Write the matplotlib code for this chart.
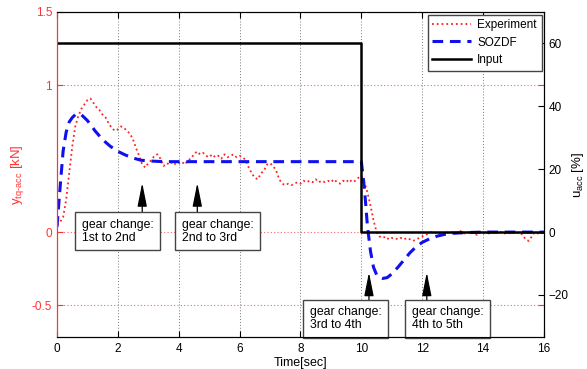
import numpy as np
import matplotlib
matplotlib.use("Agg")
import matplotlib.pyplot as plt

plt.rcParams['font.family'] = ['Liberation Sans', 'DejaVu Sans']
plt.rcParams['mathtext.fontset'] = 'custom'
plt.rcParams['mathtext.rm'] = 'Liberation Sans'
plt.rcParams['mathtext.it'] = 'Liberation Sans'

# ---------------- data ----------------
exp_t = np.round(np.arange(0, 16.01, 0.1), 1)
exp_y = [
    0.05, 0.07, 0.10, 0.22, 0.40, 0.58, 0.72, 0.79, 0.84, 0.87,   # 0.0-0.9
    0.90, 0.91, 0.88, 0.85, 0.83, 0.80, 0.78, 0.74, 0.71, 0.69,   # 1.0-1.9
    0.70, 0.72, 0.71, 0.69, 0.67, 0.63, 0.57, 0.52, 0.46, 0.44,   # 2.0-2.9
    0.47, 0.49, 0.52, 0.53, 0.50, 0.45, 0.47, 0.46, 0.48, 0.46,   # 3.0-3.9
    0.47, 0.48, 0.46, 0.49, 0.50, 0.53, 0.55, 0.53, 0.54, 0.52,   # 4.0-4.9
    0.51, 0.53, 0.51, 0.52, 0.50, 0.53, 0.51, 0.52, 0.53, 0.51,   # 5.0-5.9
    0.52, 0.51, 0.49, 0.44, 0.40, 0.37, 0.36, 0.40, 0.42, 0.46,   # 6.0-6.9
    0.47, 0.45, 0.42, 0.36, 0.33, 0.32, 0.33, 0.32, 0.33, 0.34,   # 7.0-7.9
    0.33, 0.35, 0.34, 0.35, 0.34, 0.36, 0.34, 0.35, 0.34, 0.35,   # 8.0-8.9
    0.34, 0.36, 0.34, 0.33, 0.35, 0.34, 0.36, 0.34, 0.35, 0.37,   # 9.0-9.9
    0.38, 0.34, 0.27, 0.18, 0.08, 0.00, -0.03, -0.04, -0.03, -0.05,   # 10.0-10.9
    -0.04, -0.04, -0.05, -0.04, -0.05, -0.04, -0.05, -0.06, -0.05, -0.04,  # 11.0-11.9
    -0.03, -0.02, -0.01, 0.00, -0.01, 0.00, -0.01, -0.02, 0.00, -0.01,  # 12.0-12.9
    0.00, -0.01, 0.00, 0.01, -0.01, 0.00, -0.01, 0.00, -0.02, 0.00,    # 13.0-13.9
    -0.01, 0.00, -0.01, 0.00, 0.01, -0.01, 0.00, -0.01, 0.00, -0.01,   # 14.0-14.9
    0.00, -0.01, 0.00, -0.02, -0.05, -0.06, -0.03, 0.00, -0.01, 0.00,  # 15.0-15.9
    -0.02,                                                              # 16.0
]

sim_t = [0.0, 0.1, 0.2, 0.3, 0.4, 0.5, 0.6, 0.7, 0.8, 1.0, 1.25, 1.5, 1.75,
         2.0, 2.25, 2.5, 2.75, 3.0, 3.5, 10.0, 10.1, 10.2, 10.3, 10.4, 10.5,
         10.6, 10.7, 10.85, 11.0, 11.2, 11.4, 11.6, 11.8, 12.0, 12.25, 12.5,
         12.75, 13.0, 13.5, 14.0, 16.0]
sim_y = [0.036, 0.30, 0.55, 0.68, 0.75, 0.78, 0.80, 0.805, 0.80, 0.76, 0.69,
         0.63, 0.585, 0.55, 0.525, 0.505, 0.49, 0.485, 0.48, 0.48, 0.30, 0.04,
         -0.13, -0.24, -0.29, -0.31, -0.316, -0.31, -0.285, -0.24, -0.19,
         -0.14, -0.10, -0.07, -0.045, -0.027, -0.015, -0.008, -0.003, 0.0, 0.0]

inp_t = [0, 10, 10, 16]
inp_u = [60, 60, 0, 0]

x_ticks = [0, 2, 4, 6, 8, 10, 12, 14, 16]
y_ticks = [-0.5, 0, 1, 1.5]
y_ticklabels = ['-0.5', '0', '1', '1.5']
u_ticks = [-20, 0, 20, 40, 60]

annotations = [
    "gear change:\n1st to 2nd",
    "gear change:\n2nd to 3rd",
    "gear change:\n3rd to 4th",
    "gear change:\n4th to 5th",
]

# ---------------- figure ----------------
fig = plt.figure(figsize=(5.87, 3.69), dpi=100)
ax = fig.add_axes([0.0971, 0.0867, 0.8296, 0.8808])
ax2 = ax.twinx()

ylo, yhi = -0.715, 1.5
scale = 70 / 1.5
ax.set_ylim(ylo, yhi)
ax2.set_ylim(ylo * scale, yhi * scale)
ax.set_xlim(0, 16)

red = '#ff3333'
l1, = ax.plot(exp_t, exp_y, linestyle=':', color='#ff2020', lw=1.3, label='Experiment')
l2, = ax.plot(sim_t, sim_y, linestyle='--', color='#1010ee', lw=2.2, dashes=(3.5, 2.2), label='SOZDF')
l3, = ax2.plot(inp_t, inp_u, color='black', lw=1.8, label='Input')

ax.set_xticks(x_ticks)
ax.set_yticks(y_ticks)
ax.set_yticklabels(y_ticklabels)
ax2.set_yticks(u_ticks)

fs = 8.5
ax.tick_params(axis='x', direction='in', top=True, length=4, labelsize=fs, pad=4)
ax.tick_params(axis='y', direction='in', colors=red, labelcolor=red, right=True,
               length=4, labelsize=fs)
ax2.tick_params(axis='y', direction='in', length=4, labelsize=fs, colors='black')

ax.grid(axis='x', linestyle=(0, (1, 2)), color='#777777', lw=0.7)
ax.grid(axis='y', linestyle=(0, (1, 2)), color='#ff6666', lw=0.8)

ax.spines['left'].set_color(red)
ax2.spines['left'].set_color(red)
for s in ['top', 'bottom', 'right']:
    ax2.spines[s].set_color('black')

ax.set_xlabel('Time[sec]', fontsize=fs + 0.5, labelpad=2)
ax.set_ylabel(r'$\mathregular{y_{tq\text{-}acc}}$ [kN]', color=red, fontsize=9.5, labelpad=4)
ax2.set_ylabel(r'$\mathregular{u_{acc}}$ [%]', fontsize=9.5, rotation=90, labelpad=1)

leg = ax2.legend(handles=[l1, l2, l3], loc='upper right', bbox_to_anchor=(0.995, 0.992),
                 fontsize=fs, fancybox=False, framealpha=1, edgecolor='#444444',
                 handlelength=3.3, borderpad=0.4, labelspacing=0.45, handletextpad=0.5,
                 borderaxespad=0)
leg.get_frame().set_linewidth(1.0)

# gear change annotations: (text x, text center y, arrow x, arrow tail y, arrow tip y)
ann_pos = [
    (0.81, 0.005, 2.80, 0.13, 0.335),
    (4.10, 0.005, 4.61, 0.13, 0.335),
    (8.31, -0.590, 10.25, -0.477, -0.275),
    (11.65, -0.590, 12.15, -0.477, -0.275),
]
for txt, (tx, ty, axx, ay0, ay1) in zip(annotations, ann_pos):
    ax.annotate('', xy=(axx, ay1), xytext=(axx, ay0),
                arrowprops=dict(arrowstyle='-|>,head_length=0.8,head_width=0.16',
                                color='black', lw=0.9, shrinkA=0, shrinkB=0,
                                mutation_scale=18), zorder=6)
    ax.text(tx, ty, txt, fontsize=fs + 0.3, ha='left', va='center', zorder=7,
            linespacing=1.05,
            bbox=dict(boxstyle='square,pad=0.55', fc='white', ec='#444444', lw=1.0))

fig.savefig('out.png', dpi=100)
